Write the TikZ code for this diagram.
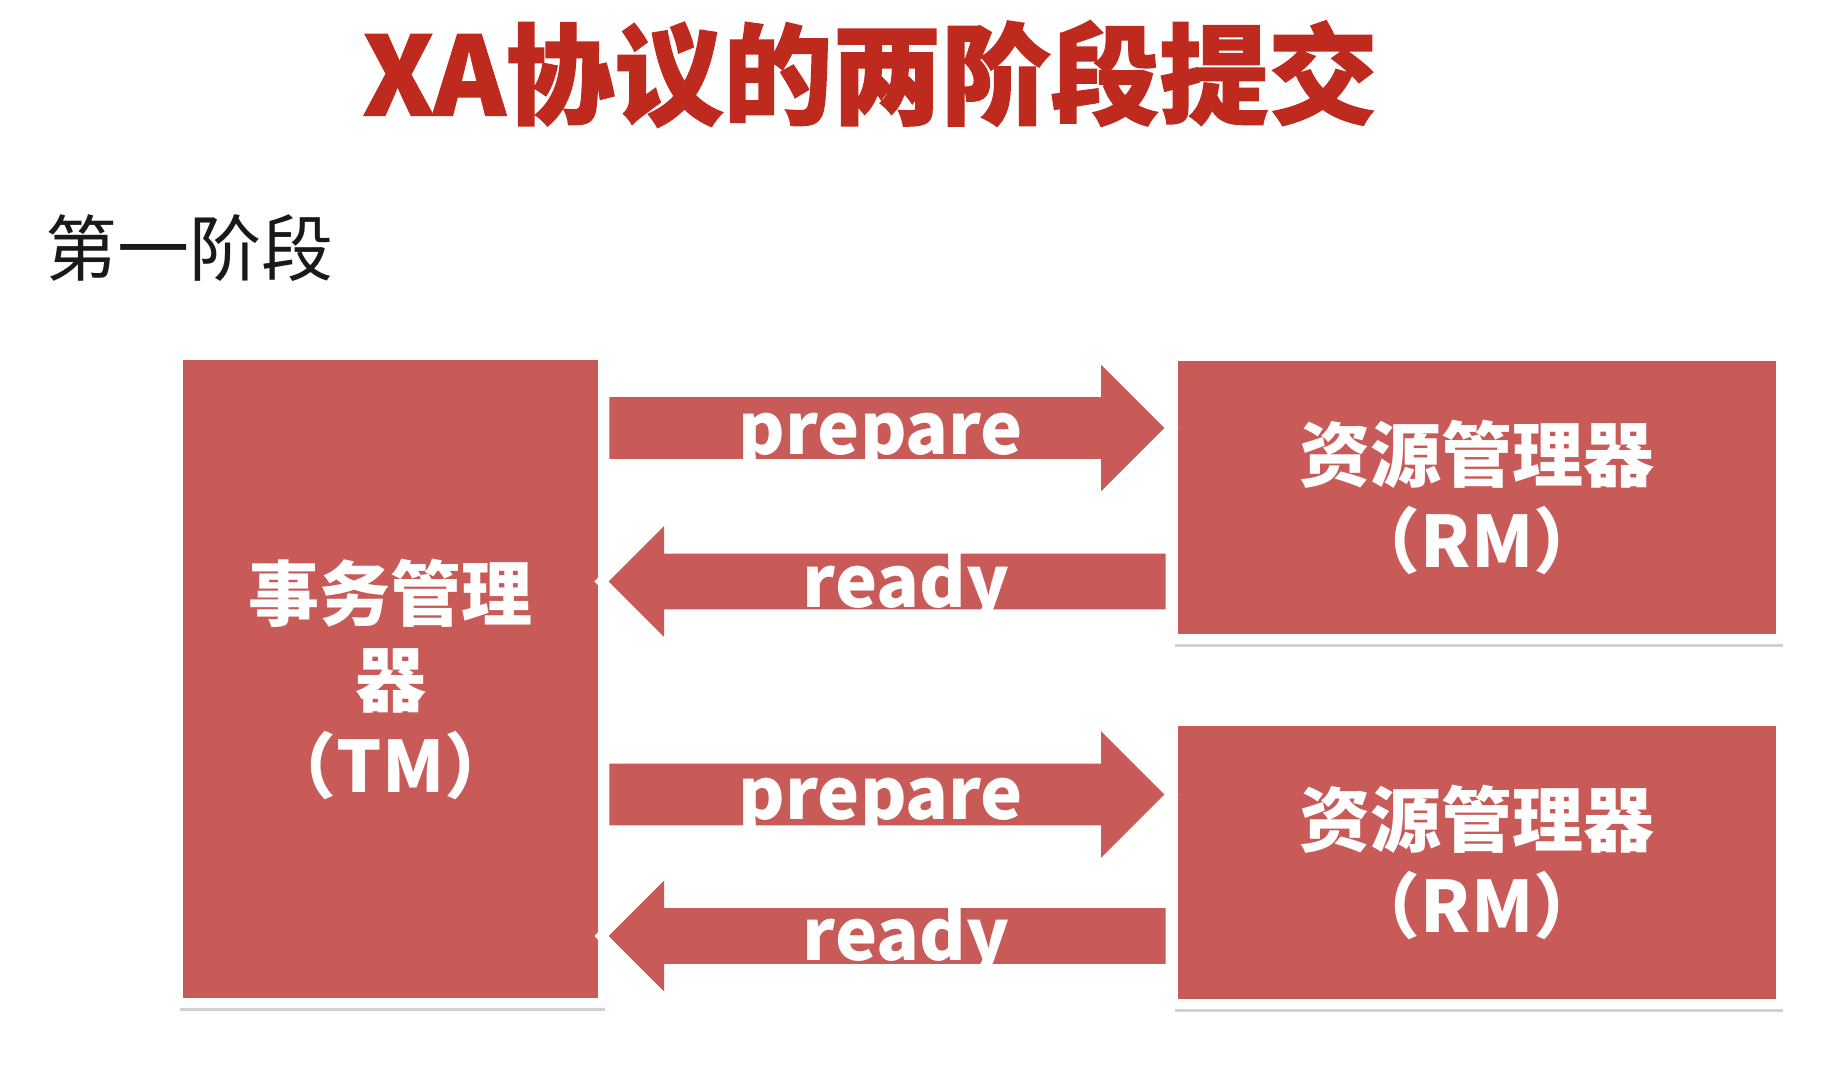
\documentclass[tikz,border=0pt]{standalone}
\usepackage{fontspec}
\newfontfamily\cjk{Noto Sans CJK SC}
\newfontfamily\cjktitle{Noto Sans CJK SC}[BoldFeatures={FakeBold=1.4}]
\usepackage{tikz}
\usetikzlibrary{shapes.arrows, shadows, positioning}
\definecolor{boxred}{RGB}{200,91,88}
\definecolor{titlered}{RGB}{190,42,30}
\tikzstyle{title} = [font=\cjktitle\bfseries\fontsize{54.5}{60}\selectfont, text=titlered, inner sep=0]
\tikzstyle{phase} = [font=\cjk\fontsize{36}{40}\selectfont, text=black!90, inner sep=0]
\tikzstyle{block} = [rectangle, fill=boxred, draw=white, line width=5pt, text=white, align=center, font=\cjk\bfseries\fontsize{35.5}{43}\selectfont, drop shadow={shadow xshift=1pt, shadow yshift=-4pt, opacity=0.18, fill=black}]
\tikzstyle{tmbox} = [block, minimum width=212.5pt, minimum height=324pt]
\tikzstyle{rmbox} = [block, minimum width=304pt, minimum height=141.5pt]
\tikzstyle{bigarrow} = [single arrow, single arrow tip angle=90, anchor=tail, inner xsep=0, text height=0pt, text depth=0pt, fill=boxred, drop shadow={shadow xshift=0.5pt, shadow yshift=-4.5pt, opacity=0.18, fill=black}, preaction={draw=white, line width=10pt}]
\tikzstyle{sendarrow} = [bigarrow, inner ysep=15.25pt, single arrow head extend=16.25pt, minimum height=277.5pt]
\tikzstyle{replyarrow} = [bigarrow, shape border rotate=180, inner ysep=13.75pt, single arrow head extend=13.75pt, minimum height=278.5pt]
\tikzstyle{msglabel} = [anchor=base, inner sep=0, text=white, font=\cjk\bfseries\fontsize{35.5}{40}\selectfont]

\begin{document}
\begin{tikzpicture}[x=0.5pt, y=-0.5pt]
    \useasboundingbox [fill=white] (0,0) rectangle (1844,1086);
    \node (title) [title] at (870,74) {XA协议的两阶段提交};
    \node (phase) [phase, anchor=west] at (45,248) {第一阶段};

    \node (tm) [tmbox] at (390.5,679) {事务管理\\器\\（TM）};
    \node (rm1) [rmbox] at (1477,497.5) {资源管理器\\（RM）};
    \node (rm2) [rmbox, below=36pt of rm1] {资源管理器\\（RM）};

    % the four messages between tm and the two resource managers
    \node (prep1) [sendarrow] at (609,428) {};
    \node (ready1) [replyarrow] at (1166,581.5) {};
    \node (prep2) [sendarrow] at (609,794.5) {};
    \node (ready2) [replyarrow] at (1166,936) {};

    \node (lprep1) [msglabel] at (881,454) {prepare};
    \node (lready1) [msglabel] at (906,607) {ready};
    \node (lprep2) [msglabel] at (881,819) {prepare};
    \node (lready2) [msglabel] at (906,960) {ready};
\end{tikzpicture}
\end{document}
